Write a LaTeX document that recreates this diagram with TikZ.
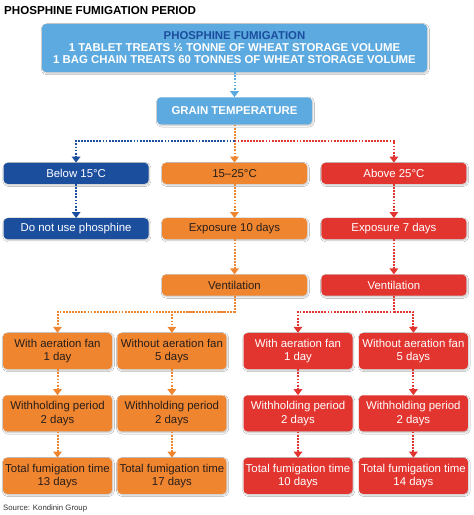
\documentclass[tikz,border=0pt]{standalone}
\usepackage{fontspec}
\setmainfont{Liberation Sans}
\usepackage{xcolor}
\usepackage{tikz}
\usetikzlibrary{arrows.meta, positioning, shadows.blur}
\definecolor{fumsky}{RGB}{92, 170, 224}
\definecolor{fumnavy}{RGB}{28, 78, 158}
\definecolor{fumorange}{RGB}{240, 133, 48}
\definecolor{fumred}{RGB}{227, 53, 48}
\definecolor{fumink}{RGB}{40, 30, 25}
\tikzset{
    basebox/.style={rectangle, rounded corners=4pt, inner sep=1pt, text centered, align=center, font=\fontsize{11.4}{13.3}\selectfont, blur shadow={shadow xshift=0.8pt, shadow yshift=-1.2pt, shadow blur radius=1.5pt, shadow opacity=25}},
    headbox/.style={basebox, fill=fumsky, text=white, font=\bfseries\fontsize{11.4}{12}\selectfont},
    bluebox/.style={basebox, fill=fumnavy, text=white, minimum width=145pt, minimum height=21pt},
    orangebox/.style={basebox, fill=fumorange, text=fumink, minimum width=145pt, minimum height=21pt},
    redbox/.style={basebox, fill=fumred, text=white, minimum width=145pt, minimum height=21pt},
    osmall/.style={orangebox, minimum width=109pt, minimum height=36pt},
    rsmall/.style={redbox, minimum width=109pt, minimum height=36pt},
    flow/.style={line width=2pt, dash pattern=on 1.8pt off 1.3pt, -{Triangle[width=8.5pt,length=6pt]}}
}

\begin{document}
\begin{tikzpicture}[x=1pt, y=1pt]
    \fill[white] (0,0) rectangle (474,-515);
    \node (title) [anchor=north west, inner sep=0pt, font=\bfseries\fontsize{11.6}{13}\selectfont] at (4,-6) {PHOSPHINE FUMIGATION PERIOD};

    \node (fumig) [headbox, minimum width=385pt, minimum height=48pt] at (234.5,-48) {\textcolor{fumnavy}{PHOSPHINE FUMIGATION}\\1 TABLET TREATS ½ TONNE OF WHEAT STORAGE VOLUME\\1 BAG CHAIN TREATS 60 TONNES OF WHEAT STORAGE VOLUME};
    \node (grain) [headbox, below=25pt of fumig, minimum width=155pt, minimum height=27pt] {GRAIN TEMPERATURE};
    \coordinate [below=16pt of grain] (split);

    % temperature bands
    \node (mid) [orangebox, below=38pt of grain] {15–25°C};
    \node (low) [bluebox, left=13pt of mid] {Below 15°C};
    \node (high) [redbox, right=14pt of mid] {Above 25°C};

    \node (nouse) [bluebox, below=34pt of low] {Do not use phosphine};
    \node (midexp) [orangebox, below=34pt of mid] {Exposure 10 days};
    \node (highexp) [redbox, below=34pt of high] {Exposure 7 days};

    \node (midvent) [orangebox, below=35pt of midexp] {Ventilation};
    \node (highvent) [redbox, below=35pt of highexp] {Ventilation};
    \coordinate [below=16pt of midvent] (midsplit);
    \coordinate [below=16pt of highvent] (highsplit);

    % 15-25 branch
    \node (ofan) [osmall] at (57.5,-351) {With aeration fan\\1 day};
    \node (onofan) [osmall, right=5pt of ofan] {Without aeration fan\\5 days};
    \node (ohold) [osmall, below=26pt of ofan] {Withholding period\\2 days};
    \node (onohold) [osmall, below=26pt of onofan] {Withholding period\\2 days};
    \node (ototal) [osmall, below=26pt of ohold] {Total fumigation time\\13 days};
    \node (onototal) [osmall, below=26pt of onohold] {Total fumigation time\\17 days};

    % above 25 branch
    \node (rfan) [rsmall] at (298,-351) {With aeration fan\\1 day};
    \node (rnofan) [rsmall, right=6pt of rfan] {Without aeration fan\\5 days};
    \node (rhold) [rsmall, below=26pt of rfan] {Withholding period\\2 days};
    \node (rnohold) [rsmall, below=26pt of rnofan] {Withholding period\\2 days};
    \node (rtotal) [rsmall, below=26pt of rhold] {Total fumigation time\\10 days};
    \node (rnototal) [rsmall, below=26pt of rnohold] {Total fumigation time\\14 days};

    \node (source) [anchor=south west, inner sep=0pt, font=\fontsize{7.8}{9}\selectfont, text=black!80] at (3,-512) {Source: Kondinin Group};

    \draw [flow, fumsky] (fumig) -- (grain);
    \draw [flow, fumorange] (grain) -- (mid);
    \draw [flow, fumnavy] (split) -| (low);
    \draw [flow, fumred] (split) -| (high);

    \draw [flow, fumnavy] (low) -- (nouse);
    \draw [flow, fumorange] (mid) -- (midexp);
    \draw [flow, fumorange] (midexp) -- (midvent);
    \draw [flow, fumred] (high) -- (highexp);
    \draw [flow, fumred] (highexp) -- (highvent);

    \draw [flow, fumorange] (midvent) -- (midsplit) -| (ofan);
    \draw [flow, fumorange] (midsplit) -| (onofan);
    \draw [flow, fumred] (highvent) -- (highsplit) -| (rfan);
    \draw [flow, fumred] (highsplit) -| (rnofan);

    \draw [flow, fumorange] (ofan) -- (ohold);
    \draw [flow, fumorange] (ohold) -- (ototal);
    \draw [flow, fumorange] (onofan) -- (onohold);
    \draw [flow, fumorange] (onohold) -- (onototal);
    \draw [flow, fumred] (rfan) -- (rhold);
    \draw [flow, fumred] (rhold) -- (rtotal);
    \draw [flow, fumred] (rnofan) -- (rnohold);
    \draw [flow, fumred] (rnohold) -- (rnototal);
\end{tikzpicture}
\end{document}
